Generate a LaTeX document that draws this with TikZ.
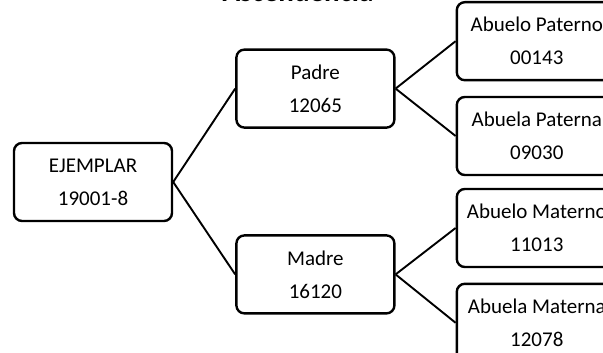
\documentclass[tikz,border=0pt]{standalone}
\usepackage{fontspec}
\setmainfont{Carlito}
\usetikzlibrary{positioning}

\begin{document}
\begin{tikzpicture}[x=1pt, y=-1pt,
	caja/.style = { draw, rounded corners=8pt, line width=2.4pt,
			minimum width=158pt, minimum height=78pt, align=center,
			font=\fontsize{21}{33}\selectfont },
	abuelo/.style = { caja, minimum width=160pt },
	rama/.style = { line width=1.9pt }]

  \useasboundingbox (0,0) rectangle (603,353);

  \node[name=titulo, anchor=base, font=\bfseries\fontsize{29}{34}\selectfont]
    at (298,2) {Ascendencia};

  \node[name=ejemplar, caja] at (93,182) {EJEMPLAR\\19001-8};
  \node[name=padre, caja, above right=13pt and 62pt of ejemplar] {Padre\\12065};
  \node[name=madre, caja, below right=12pt and 62pt of ejemplar] {Madre\\16120};
  \node[name=abuelop, abuelo, above right=-33pt and 60pt of padre]
    {Abuelo Paterno\\00143};
  \node[name=abuelap, abuelo, below right=-33pt and 60pt of padre]
    {Abuela Paterna\\09030};
  \node[name=abuelom, abuelo, above right=-34pt and 60pt of madre]
    {Abuelo Materno\\11013};
  \node[name=abuelam, abuelo, below right=-32pt and 60pt of madre]
    {Abuela Materna\\12078};

  \draw [rama] (ejemplar.east) -- (padre.west);
  \draw [rama] (ejemplar.east) -- (madre.west);
  \draw [rama] (padre.east) -- (abuelop.west);
  \draw [rama] (padre.east) -- (abuelap.west);
  \draw [rama] (madre.east) -- (abuelom.west);
  \draw [rama] (madre.east) -- (abuelam.west);
\end{tikzpicture}
\end{document}
